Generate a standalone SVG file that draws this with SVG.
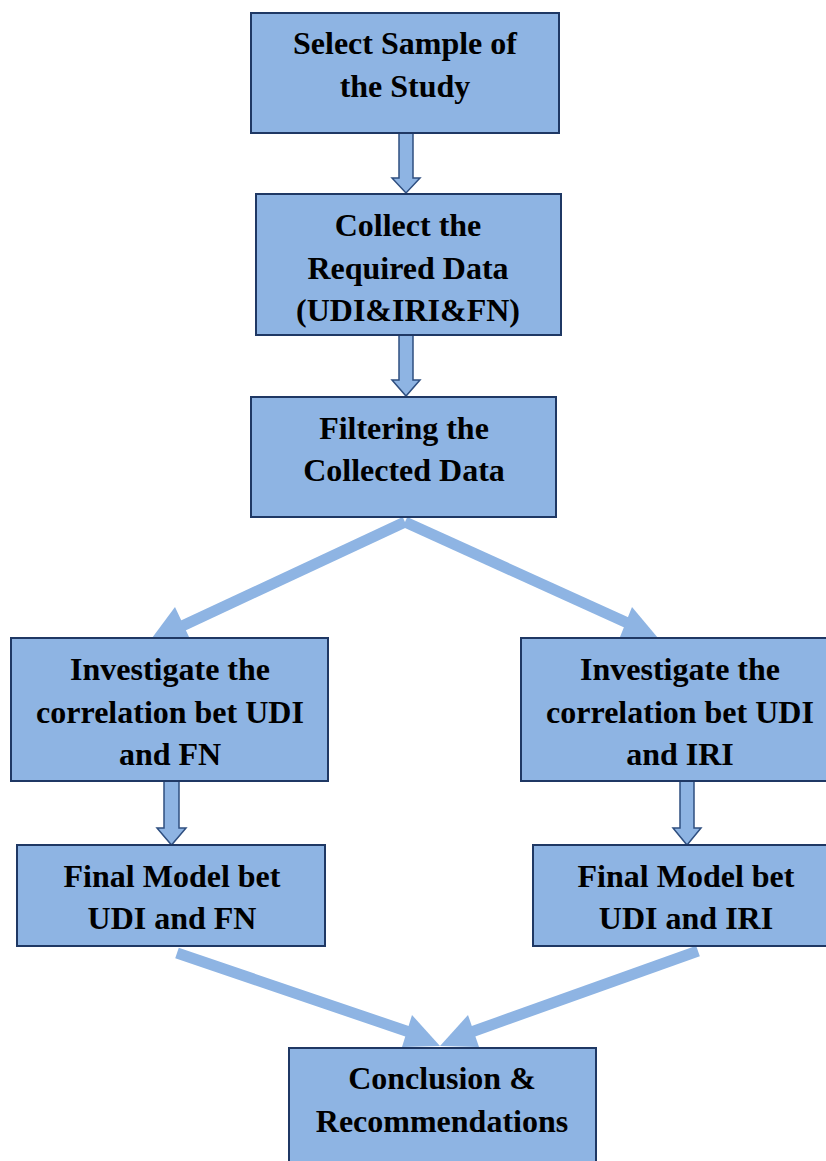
<svg xmlns="http://www.w3.org/2000/svg" width="826" height="1161" viewBox="0 0 826 1161">
<style>
.box{fill:#8EB4E3;stroke:#1F3864;stroke-width:2}
.t{font-family:"Liberation Serif","Times New Roman",serif;font-weight:bold;font-size:32px;fill:#000;text-anchor:middle}
.blk{fill:#8EB4E3;stroke:#2F4F80;stroke-width:1.5;stroke-linejoin:miter}
.ln{stroke:#8EB4E3;stroke-width:11;fill:none}
.hd{fill:#8EB4E3}
</style>
<rect width="826" height="1161" fill="#fff"/>
<g id="connectors">
<path class="blk" d="M399,132 L413,132 L413,178 L420,178 L406,193 L392,178 L399,178 Z"/>
<path class="blk" d="M399,335 L413,335 L413,380 L420,380 L406,396 L392,380 L399,380 Z"/>
<path class="blk" d="M164,781 L179,781 L179,828 L186,828 L171.5,845 L157,828 L164,828 Z"/>
<path class="blk" d="M680,781 L694,781 L694,828 L701,828 L687,845 L673,828 L680,828 Z"/>
<path class="ln" d="M405,522 L180,627"/>
<polygon class="hd" points="152,638 175,607 189,637"/>
<path class="ln" d="M405,522 L632,625"/>
<polygon class="hd" points="658,638 632,607 620,637"/>
<path class="ln" d="M177,953 L418,1035"/>
<polygon class="hd" points="440,1046 412,1015 402,1047"/>
<path class="ln" d="M698,951 L463,1035"/>
<polygon class="hd" points="440,1046 468,1015 479,1047"/>
</g>
<g id="n1"><rect class="box" x="251" y="13" width="308" height="120"/>
<text class="t" x="405" y="54">Select Sample of</text><text class="t" x="405" y="97">the Study</text></g>
<g id="n2"><rect class="box" x="256" y="194" width="305" height="141"/>
<text class="t" x="408" y="236">Collect the</text><text class="t" x="408" y="279">Required Data</text><text class="t" x="408" y="321">(UDI&amp;IRI&amp;FN)</text></g>
<g id="n3"><rect class="box" x="251" y="397" width="305" height="120"/>
<text class="t" x="404" y="439">Filtering the</text><text class="t" x="404" y="481">Collected Data</text></g>
<g id="n4"><rect class="box" x="11" y="638" width="317" height="143"/>
<text class="t" x="170" y="680">Investigate the</text><text class="t" x="170" y="723">correlation bet UDI</text><text class="t" x="170" y="765">and FN</text></g>
<g id="n5"><rect class="box" x="521" y="638" width="306" height="143"/>
<text class="t" x="680" y="680">Investigate the</text><text class="t" x="680" y="723">correlation bet UDI</text><text class="t" x="680" y="765">and IRI</text></g>
<g id="n6"><rect class="box" x="17" y="845" width="308" height="101"/>
<text class="t" x="172" y="887">Final Model bet</text><text class="t" x="172" y="929">UDI and FN</text></g>
<g id="n7"><rect class="box" x="533" y="845" width="294" height="101"/>
<text class="t" x="686" y="887">Final Model bet</text><text class="t" x="686" y="929">UDI and IRI</text></g>
<g id="n8"><rect class="box" x="289" y="1048" width="307" height="120"/>
<text class="t" x="442" y="1089">Conclusion &amp;</text><text class="t" x="442" y="1132">Recommendations</text></g>
</svg>
